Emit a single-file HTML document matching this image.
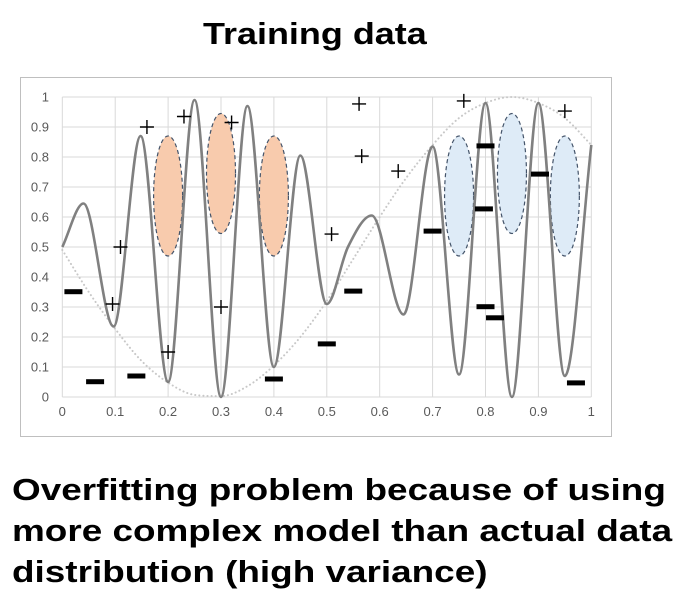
<!DOCTYPE html>
<html><head><meta charset="utf-8"><style>
body{margin:0;background:#fff;width:689px;height:610px;overflow:hidden;font-family:"Liberation Sans",sans-serif;}
.t{position:absolute;font-weight:bold;color:#000;transform-origin:0 0;white-space:nowrap;}
</style></head><body>
<div class="t" style="left:203px;top:16px;font-size:31px;transform:scaleX(1.16);">Training data</div>
<svg id="chart" style="position:absolute;left:0;top:0" width="689" height="450"></svg>
<div class="t" style="left:12px;top:469px;font-size:31px;line-height:41px;transform:scaleX(1.19);">Overfitting problem because of using<br>more complex model than actual data<br>distribution (high variance)</div>
<script>
const xTicks=[0,0.1,0.2,0.3,0.4,0.5,0.6,0.7,0.8,0.9,1];
const yTicks=[0,0.1,0.2,0.3,0.4,0.5,0.6,0.7,0.8,0.9,1];
const fitX=[0,0.04,0.097,0.148,0.2,0.25,0.3,0.35,0.4,0.45,0.5,0.54,0.585,0.645,0.7,0.75,0.8,0.85,0.9,0.95,1];
const fitY=[0.5,0.645,0.235,0.87,0.05,0.99,0.0,0.97,0.1,0.805,0.31,0.5,0.605,0.275,0.835,0.075,0.98,0.0,0.98,0.07,0.84];
const trueX=[0,0.05,0.1,0.15,0.2,0.25,0.3,0.35,0.4,0.45,0.5,0.55,0.6,0.65,0.7,0.75,0.8,0.85,0.9,0.95,1];
const trueY=[0.49,0.35,0.227,0.12,0.048,0.007,0.003,0.036,0.105,0.2,0.32,0.46,0.6,0.73,0.84,0.93,0.98,1.0,0.98,0.93,0.84];
const plusX=[0.11,0.095,0.16,0.23,0.2,0.32,0.3,0.561,0.566,0.635,0.509,0.759,0.95];
const plusY=[0.5,0.31,0.9,0.935,0.15,0.915,0.3,0.977,0.803,0.753,0.543,0.987,0.953];
const minusX=[0.021,0.062,0.14,0.4,0.5,0.55,0.7,0.8,0.797,0.8,0.818,0.903,0.971];
const minusY=[0.351,0.051,0.07,0.06,0.177,0.353,0.553,0.837,0.627,0.301,0.264,0.743,0.047];
const orangeX=[0.2,0.3,0.4];const orangeY=[0.67,0.745,0.67];
const blueX=[0.75,0.85,0.95];const blueY=[0.67,0.745,0.67];
const NS='http://www.w3.org/2000/svg';
const svg=document.getElementById('chart');
const X=v=>62.3+v*529, Y=v=>397-v*300;
function mk(t,a,p){const e=document.createElementNS(NS,t);for(const k in a)e.setAttribute(k,a[k]);(p||svg).appendChild(e);return e;}
const fr=mk('rect',{x:20.5,y:77.5,width:591,height:359,fill:'#fff',stroke:'#bfbfbf'});


xTicks.forEach(v=>{const l=mk('line',{x1:X(v),x2:X(v),y1:Y(1),y2:Y(0),stroke:'#d9d9d9'});


const t=mk('text',{x:X(v),y:416,'text-anchor':'middle','font-size':13,fill:'#595959'});t.textContent=v;

});
yTicks.forEach(v=>{const l=mk('line',{x1:X(0),x2:X(1),y1:Y(v),y2:Y(v),stroke:'#d9d9d9'});


const t=mk('text',{x:49,y:Y(v)+4.5,'text-anchor':'end','font-size':13,fill:'#595959'});t.textContent=v;

});
function ell(xs,ys,fill,name){xs.forEach((x,i)=>{const e=mk('ellipse',{cx:X(x),cy:Y(ys[i]),rx:14.5,ry:60,fill:fill,stroke:'#44546a','stroke-width':1.2,'stroke-dasharray':'4 3'});

});}
ell(orangeX,orangeY,'#f8cbad','orange-region');
ell(blueX,blueY,'#deebf7','blue-region');
function mono(xs,ys){const n=xs.length,dl=[],m=[];for(let i=0;i<n-1;i++)dl.push((ys[i+1]-ys[i])/(xs[i+1]-xs[i]));
m[0]=dl[0];m[n-1]=dl[n-2];for(let i=1;i<n-1;i++)m[i]=dl[i-1]*dl[i]<=0?0:(dl[i-1]+dl[i])/2;
for(let i=0;i<n-1;i++){if(dl[i]===0){m[i]=m[i+1]=0;continue;}const a=m[i]/dl[i],b=m[i+1]/dl[i],s=a*a+b*b;if(s>9){const t=3/Math.sqrt(s);m[i]=t*a*dl[i];m[i+1]=t*b*dl[i];}}
let p='M'+X(xs[0])+' '+Y(ys[0]);for(let i=0;i<n-1;i++){const h=(xs[i+1]-xs[i])/3;
p+='C'+X(xs[i]+h)+' '+Y(ys[i]+m[i]*h)+' '+X(xs[i+1]-h)+' '+Y(ys[i+1]-m[i+1]*h)+' '+X(xs[i+1])+' '+Y(ys[i+1]);}return p;}
const tc=mk('path',{d:mono(trueX,trueY),fill:'none',stroke:'#c8c8c8','stroke-width':2,'stroke-dasharray':'0.1 4','stroke-linecap':'round'});


const fc=mk('path',{d:mono(fitX,fitY),fill:'none',stroke:'#808080','stroke-width':2.6});


plusX.forEach((x,i)=>{const cx=X(x),cy=Y(plusY[i]);const p=mk('path',{d:`M${cx-7} ${cy}H${cx+7}M${cx} ${cy-7}V${cy+7}`,stroke:'#000','stroke-width':1.4});

});
minusX.forEach((x,i)=>{const r=mk('rect',{x:X(x)-9,y:Y(minusY[i])-2.5,width:18,height:5,fill:'#000'});

});
</script>
</body></html>
